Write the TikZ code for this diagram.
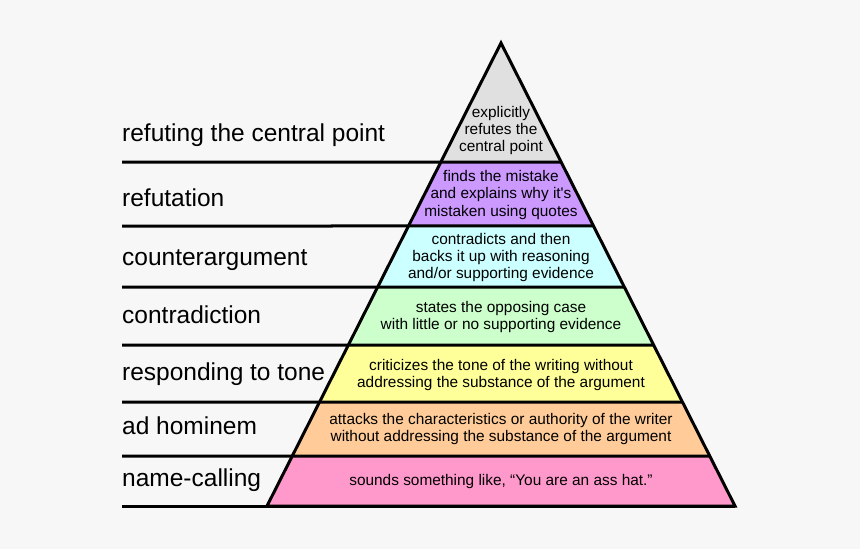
\documentclass[tikz,border=0pt]{standalone}
\usepackage{fontspec}
\setmainfont{Liberation Sans}
\usetikzlibrary{calc}
\definecolor{Bg}{RGB}{247,247,247}
\definecolor{TopG}{RGB}{224,224,224}
\definecolor{Purp}{RGB}{204,153,255}
\definecolor{Aqua}{RGB}{204,255,255}
\definecolor{Mint}{RGB}{204,255,204}
\definecolor{Lemon}{RGB}{255,255,153}
\definecolor{Peach}{RGB}{255,204,153}
\definecolor{Rose}{RGB}{255,153,204}
\tikzset{
  lvlline/.style={line width=3pt},
  lab/.style={anchor=base west,inner sep=0pt,font=\fontsize{24.5}{28}\selectfont},
  desc/.style={align=center,inner sep=0pt,font=\fontsize{15.4}{17.4}\selectfont}
}
\begin{document}
\begin{tikzpicture}[x=1pt,y=-1pt]
\fill[Bg] (0,0) rectangle (860,549);
\useasboundingbox (0,0) rectangle (860,549);
\coordinate (apex) at (501,43);
\coordinate (bl) at (267,506);
\coordinate (br) at (735,506);
% points on the two sides, one per level
\foreach \n/\y in {1/162,2/226,3/287,4/345,5/402,6/456,7/506}{
  \coordinate (L\n) at ($(apex)!{(\y-43)/463}!(bl)$);
  \coordinate (R\n) at ($(apex)!{(\y-43)/463}!(br)$);
}
\fill[TopG] (apex) -- (R1) -- (L1) -- cycle;
\foreach \a/\b/\c in {1/2/Purp,2/3/Aqua,3/4/Mint,4/5/Lemon,5/6/Peach,6/7/Rose}
  \fill[\c] (L\a) -- (R\a) -- (R\b) -- (L\b) -- cycle;
\foreach \n/\y in {1/162,2/226,3/287,4/345,5/402,6/456,7/506}
  \draw[lvlline] (122,\y) -- (R\n);
\draw[lvlline] (bl) -- (apex) -- (br) -- cycle;
% names of the levels
\node[lab] (central) at (122,141.7) {refuting the central point};
\node[lab] (refut) at (122,206) {refutation};
\node[lab] (counter) at (122,265) {counterargument};
\node[lab] (contra) at (122,323.3) {contradiction};
\node[lab] (tone) at (122,380) {responding to tone};
\node[lab] (adhom) at (122,434) {ad hominem};
\node[lab] (names) at (122,486) {name-calling};
% what each level does
\node[desc] (dcentral) at (501,130.5) {explicitly\\ refutes the\\ central point};
\node[desc] (drefut) at (501,195) {finds the mistake\\ and explains why it\textquotesingle s\\ mistaken using quotes};
\node[desc] (dcounter) at (501,257.5) {contradicts and then\\ backs it up with reasoning\\ and/or supporting evidence};
\node[desc] (dcontra) at (501,317) {states the opposing case\\ with little or no supporting evidence};
\node[desc] (dtone) at (501,375) {criticizes the tone of the writing without\\ addressing the substance of the argument};
\node[desc] (dadhom) at (501,429) {attacks the characteristics or authority of the writer\\ without addressing the substance of the argument};
\node[desc] (dnames) at (501,482) {sounds something like, “You are an ass hat.”};
\end{tikzpicture}
\end{document}
